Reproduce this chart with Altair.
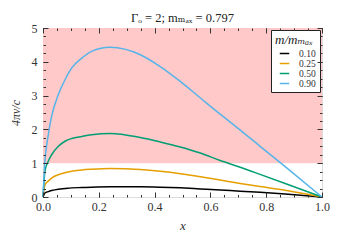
import altair as alt
import pandas as pd

# ---- data ----
xs = [0.0, 0.007, 0.019, 0.031, 0.055, 0.079, 0.103, 0.139, 0.174, 0.241, 0.349, 0.420, 0.492, 0.564, 0.635, 0.707, 0.778, 0.868, 1.0]
y_010 = [0.0, 0.12, 0.16, 0.19, 0.23, 0.25, 0.27, 0.28, 0.29, 0.30, 0.30, 0.29, 0.27, 0.24, 0.21, 0.17, 0.14, 0.09, 0.0]
y_025 = [0.0, 0.36, 0.47, 0.56, 0.66, 0.72, 0.76, 0.80, 0.82, 0.84, 0.81, 0.76, 0.69, 0.60, 0.50, 0.40, 0.31, 0.20, 0.0]
y_050 = [0.0, 0.76, 1.06, 1.25, 1.50, 1.65, 1.73, 1.79, 1.84, 1.88, 1.76, 1.63, 1.48, 1.30, 1.08, 0.88, 0.67, 0.40, 0.0]
y_090 = [0.0, 1.06, 1.84, 2.39, 3.03, 3.47, 3.82, 4.11, 4.31, 4.43, 4.21, 3.86, 3.42, 2.93, 2.45, 1.98, 1.50, 0.90, 0.0]
series_labels = ["0.10", "0.25", "0.50", "0.90"]
series_colors = ["#000000", "#E69F00", "#009E73", "#56B4E9"]

x_major = [0.0, 0.2, 0.4, 0.6, 0.8, 1.0]
x_minor = [i / 20 for i in range(21)]
y_major = [0, 1, 2, 3, 4, 5]
y_minor = [i / 4 for i in range(21)]

region = pd.DataFrame({"x0": [0.0], "x1": [1.0], "y0": [1.0], "y1": [5.0]})

rows = []
for lab, ys in zip(series_labels, [y_010, y_025, y_050, y_090]):
    for xv, yv in zip(xs, ys):
        rows.append({"x": xv, "y": yv, "m": lab})
lines_df = pd.DataFrame(rows)

W, H = 279, 169
FONT = "'Liberation Serif', 'DejaVu Serif', serif"
xs_scale = alt.Scale(domain=[0, 1], nice=False, zero=False)
ys_scale = alt.Scale(domain=[0, 5], nice=False, zero=False)

def tick_axis(orient, offset, values, size):
    return alt.Axis(orient=orient, offset=offset, values=values, tickSize=size,
                    labels=False, domain=False, grid=False, title=None,
                    tickColor="#333333", tickWidth=1, zindex=2)

band = alt.Chart(region).mark_rect(color="#FFC9C9").encode(
    x=alt.X("x0:Q", scale=xs_scale,
            axis=alt.Axis(values=x_major, format=".1f", ticks=False, domain=False, grid=False,
                          title="x", titleFont=FONT, titleFontStyle="italic", titleFontWeight="normal",
                          titleFontSize=13, labelFont=FONT, labelFontSize=12, labelColor="#333333",
                          titleColor="#333333", labelPadding=4, titlePadding=7, labelFlush=False)),
    x2="x1:Q",
    y=alt.Y("y0:Q", scale=ys_scale,
            axis=alt.Axis(values=y_major, format="d", ticks=False, domain=False, grid=False,
                          title="4πv/c", titleFont=FONT, titleFontStyle="italic", titleFontWeight="normal",
                          titleFontSize=12, labelFont=FONT, labelFontSize=12, labelColor="#333333",
                          titleColor="#333333", labelPadding=6, titlePadding=9, labelFlush=False)),
    y2="y1:Q",
)

lines = alt.Chart(lines_df).mark_line(strokeWidth=1.5, interpolate="monotone").encode(
    x=alt.X("x:Q", scale=xs_scale, axis=tick_axis("top", -H, x_major, 5)),
    y=alt.Y("y:Q", scale=ys_scale, axis=tick_axis("right", -W, y_major, 5)),
    color=alt.Color("m:N", scale=alt.Scale(domain=series_labels, range=series_colors),
                    legend=alt.Legend(title="m/mₘₐₓ", orient="top-right", offset=2,
                                      symbolType="stroke", symbolStrokeWidth=1.5, symbolSize=90,
                                      symbolOffset=4,
                                      titleFont=FONT, titleFontStyle="italic", titleFontWeight="normal",
                                      titleFontSize=13, titleColor="#222222",
                                      labelFont=FONT, labelFontSize=9.5, labelColor="#333333",
                                      labelOffset=9, fillColor="white", strokeColor="#222222",
                                      padding=4, rowPadding=0, cornerRadius=0, titlePadding=1)),
)

def ghost(xaxis, yaxis):
    return alt.Chart(region).mark_point(opacity=0).encode(
        x=alt.X("x0:Q", scale=xs_scale, axis=xaxis),
        y=alt.Y("y0:Q", scale=ys_scale, axis=yaxis),
    )

g1 = ghost(tick_axis("bottom", -H, x_major, 5), tick_axis("left", -W, y_major, 5))
g2 = ghost(tick_axis("top", -H, x_minor, 2.5), tick_axis("right", -W, y_minor, 2.5))
g3 = ghost(tick_axis("bottom", -H, x_minor, 2.5), tick_axis("left", -W, y_minor, 2.5))

chart = alt.layer(band, lines, g1, g2, g3).resolve_axis(x="independent", y="independent").properties(
    width=W, height=H,
    title=alt.TitleParams("Γₒ = 2; mₘₐₓ = 0.797", font=FONT, fontSize=12.5, fontWeight="normal",
                          color="#222222", offset=4, dy=6, anchor="middle"),
    autosize="none",
    padding={"left": 35, "top": 20, "right": 13, "bottom": 39},
).configure_view(stroke="#333333", strokeWidth=1).configure(background="white")

chart.save("out.html", embed_options={"renderer": "svg", "actions": False})
